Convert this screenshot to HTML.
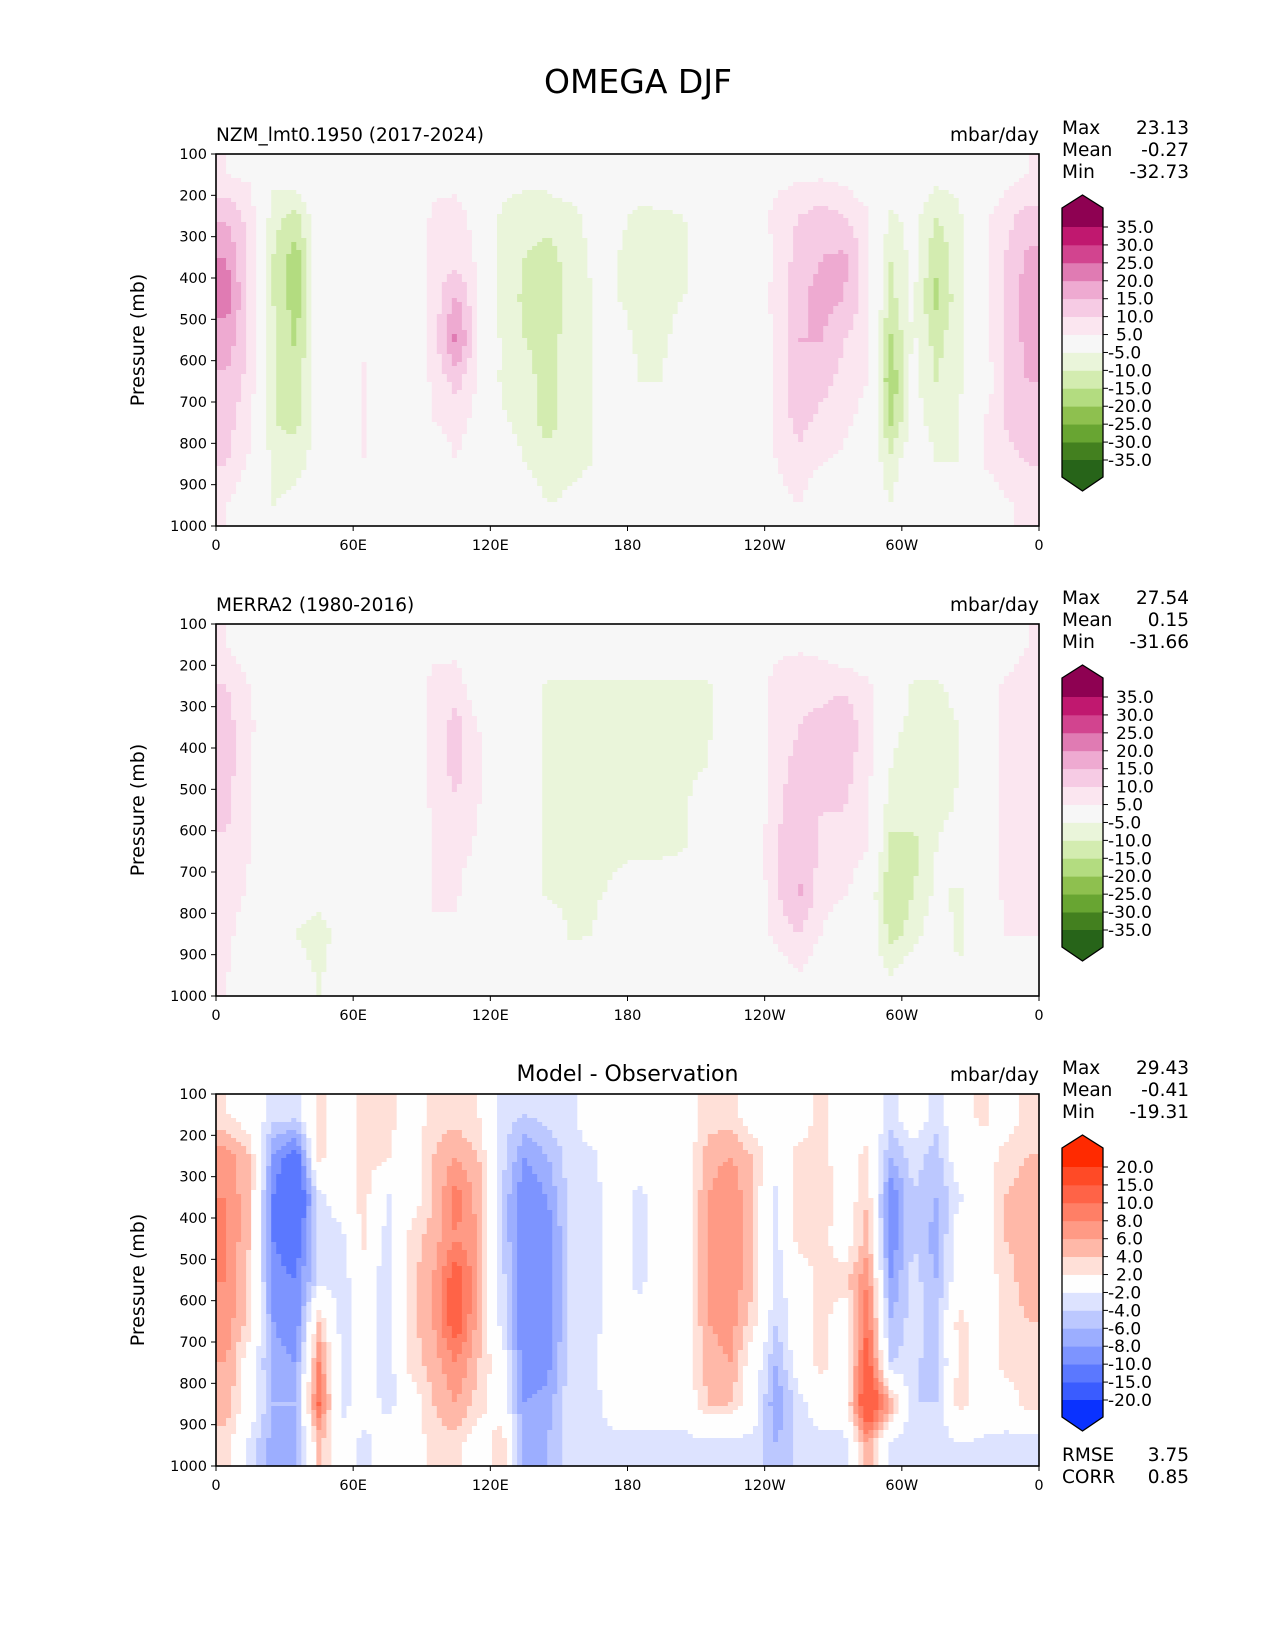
<!DOCTYPE html>
<html><head><meta charset="utf-8"><style>
html,body{margin:0;padding:0;background:#fff;}
svg{display:block;font-family:"DejaVu Sans","Liberation Sans",sans-serif;}
</style></head><body>
<svg id="fig" width="1275" height="1650" viewBox="0 0 1275 1650" xmlns="http://www.w3.org/2000/svg">
<rect width="1275" height="1650" fill="#fff"/>
<text x="638" y="93" font-size="33" text-anchor="middle">OMEGA DJF</text>
</svg>
<script>
// ---------- data ----------
const pressureLevels = [150,250,350,450,550,650,750,850,950];
const lonCenters = [5,15,25,35,45,55,65,75,85,95,105,115,125,135,145,155,165,175,185,195,205,215,225,235,245,255,265,275,285,295,305,315,325,335,345,355];
const xTickLabels = ["0","60E","120E","180","120W","60W","0"];
const xTickLons = [0,60,120,180,240,300,360];
const yTickLabels = [100,200,300,400,500,600,700,800,900,1000];

const modelGrid = [
[5,4,-3,0,0,0,0,0,0,3,3,0,-3,-3,-3,0,0,0,-2,0,0,0,0,0,3,4,4,3,0,0,0,-3,-3,0,3,5],
[14,8,-8,-12,0,0,0,0,0,6,7,3,-6,-8,-8,-7,-3,-4,-6,-6,-5,0,0,0,7,10,12,10,6,-6,-3,-10,-6,3,8,12],
[20,8,-10,-18,0,0,0,0,0,7,8,4,-7,-10,-12,-8,-4,-5,-6,-6,-6,0,0,0,6,12,15,16,7,-10,-3,-14,-7,3,10,16],
[22,9,-10,-18,0,-1,0,0,0,7,16,5,-7,-11,-14,-8,-5,-5,-6,-6,-5,0,0,0,7,14,17,15,7,-12,-4,-16,-7,3,10,18],
[18,9,-9,-16,0,0,4,0,0,7,22,5,-6,-10,-12,-8,-5,-3,-6,-6,-3,0,0,0,6,15,15,10,6,-16,-4,-12,-6,3,10,17],
[14,8,-9,-14,0,0,6,0,0,6,12,4,-6,-8,-12,-7,-5,0,-5,-5,0,0,0,0,6,15,12,8,5,-20,-3,-10,-6,0,10,15],
[12,6,-10,-12,0,0,6,0,0,5,7,3,-4,-7,-12,-7,-5,0,-3,-3,0,0,0,0,6,12,8,6,3,-16,-3,-7,-5,5,10,14],
[10,4,-6,-6,-4,0,5,0,0,0,5,0,0,-5,-8,-6,-5,0,0,0,0,0,0,-3,5,8,5,4,0,-8,0,-5,-5,5,8,10],
[5,0,-5,-4,0,0,3,0,0,0,0,0,0,0,-5,-4,-3,0,0,0,0,0,0,0,3,5,0,0,0,-5,0,0,-4,0,4,6]];

const obsGrid = [
[5,0,0,0,0,0,0,0,0,3,3,0,0,0,0,0,0,0,0,0,0,0,0,0,3,4,3,0,0,0,0,0,0,0,0,5],
[10,5,0,0,0,0,0,0,0,7,8,0,0,0,-6,-6,-6,-6,-6,-6,-6,-6,0,0,8,9,9,9,6,0,-6,-6,-3,0,6,9],
[12,6,0,0,0,0,0,0,0,7,12,5,0,0,-6,-6,-6,-6,-6,-6,-6,-6,0,0,8,10,11,14,7,-4,-6,-8,-5,0,7,9],
[12,5,0,0,0,0,0,0,0,7,12,6,0,0,-6,-6,-6,-6,-6,-6,-6,-5,0,0,9,11,11,12,7,-5,-7,-10,-5,0,7,8],
[11,5,0,0,0,0,0,0,0,6,9,5,0,0,-6,-6,-6,-6,-6,-6,-6,0,0,0,9,12,10,10,6,-8,-8,-7,-4,0,6,7],
[9,5,0,0,0,0,0,0,0,6,7,4,0,0,-6,-6,-6,-6,-6,-6,-5,0,0,0,10,14,9,8,5,-12,-12,-5,0,0,6,7],
[8,4,-4,0,0,0,0,0,0,5,6,0,0,0,-6,-6,-6,-4,0,0,0,0,0,0,9,16,7,6,0,-14,-10,-4,-6,0,6,6],
[7,0,0,-5,-10,0,0,0,0,5,4,0,0,0,0,-6,-5,0,0,0,0,0,0,0,7,10,5,0,0,-12,-8,0,-7,0,5,5],
[5,0,0,0,-6,0,0,0,0,0,0,0,0,0,0,0,0,0,0,0,0,0,0,0,0,5,0,0,0,-5,0,0,-4,0,0,0]];

const diffGrid = [
[2,0,-3,-3,3,0,3,3,0,3,3,2,-3,-4,-3,-2.5,0,0,0,0,0,3,3,0,0,0,3,0,0,-3,0,-3,0,3,0,3],
[7,4,-8,-12,3,0,3,2.5,0,4,6,4,-3,-8,-6,-3,-2.5,0,0,0,0,5,6,4,0,3,3,0,3,-6,-3,-5,0,0,3,4],
[8,4,-10,-15,-3,0,3,-2.5,0,4,9,5,-4,-10,-8,-3,-3,0,-3,0,0,6,8,4,-3,3,4,0,4,-10,-4,-6,-2.5,0,4,5],
[8,4,-10,-12,-3,-3,3,-3,3,5,8,6,-4,-10,-10,-3,-3,0,-3,0,0,6,8,4,-3,3,3,0,5,-10,-4,-7,0,0,4,5],
[8,3,-9,-10,-3,-3,0,-4,3,6,12,6,-3,-10,-10,-3,-3,0,-3,0,0,6,8,4,-3,0,3,3,8,-8,-3,-6,0,0,3,5],
[7,3,-8,-10,4,-3,0,-4,3,6,12,5,-3,-10,-10,-3,-3,0,0,0,0,6,7,3,-4,0,3,0,10,-6,-3,-5,3,0,3,4],
[6,0,-7,-8,8,-3,0,-4,3,5,8,4,0,-10,-9,-3,-2.5,0,0,0,0,5,6,0,-6,0,3,0,12,-4,-3,-6,3,0,3,3],
[5,0,-6,-6,10,-3,0,-3,0,4,6,3,0,-8,-7,-2.5,-3,0,0,0,0,4,4,0,-8,-3,0,0,15,6,-4,-4,3,0,0,3],
[3,-3,-7,-7,4,0,-3,0,0,3,3,0,4,-8,-6,-3,-3,-3,-3,-3,-3,-3,-3,-3,-6,-3,-3,-3,6,-3,-4,-3,-2.5,-2.5,-3,-4]];

const fieldBounds = [-35,-30,-25,-20,-15,-10,-5,5,10,15,20,25,30,35];
const fieldLabels = ["-35.0","-30.0","-25.0","-20.0","-15.0","-10.0","-5.0","5.0","10.0","15.0","20.0","25.0","30.0","35.0"];
const fieldColors = ["#276419","#43801f","#68a532","#8ec04f","#b3dc80","#d3ecb0","#eaf5da","#f7f7f7","#fbe6f0","#f6cbe4","#eeaad1","#e07bb3","#d2448f","#c0186f","#8e0152"];
const diffBounds = [-20,-15,-10,-8,-6,-4,-2,2,4,6,8,10,15,20];
const diffLabels = ["-20.0","-15.0","-10.0","-8.0","-6.0","-4.0","-2.0","2.0","4.0","6.0","8.0","10.0","15.0","20.0"];
const diffColors = ["#0a32ff","#3a5cff","#5b78ff","#7d94ff","#9caeff","#bcc8ff","#dde3ff","#fefefe","#ffe0d8","#ffb8a8","#ff9a85","#ff7f66","#ff6347","#ff4a26","#ff2a00"];

const statsModel = ["23.13","-0.27","-32.73"];
const statsObs = ["27.54","0.15","-31.66"];
const statsDiff = ["29.43","-0.41","-19.31"];
const diffScores = ["3.75","0.85"];

// ---------- layout ----------
const AXL=216, AXR=1039, AXH=372;
const NS='http://www.w3.org/2000/svg';
const svg=document.getElementById('fig');
function el(tag,attrs,parent){const e=document.createElementNS(NS,tag);for(const k in attrs)e.setAttribute(k,attrs[k]);(parent||svg).appendChild(e);return e;}
function txt(s,attrs,parent){const e=el('text',attrs,parent);e.textContent=s;return e;}
function xScale(lon){return AXL+(lon/360)*(AXR-AXL);}
function yScale(p,top){return top+((p-100)/900)*AXH;}
function classify(v,bounds){let i=0;while(i<bounds.length&&v>=bounds[i])i++;return i;}
function sample(grid,lon,p){
  let fx=(lon-5)/10, fy=(p-150)/100;
  fx=Math.max(0,Math.min(35,fx)); fy=Math.max(0,Math.min(8,fy));
  const x0=Math.floor(fx), y0=Math.floor(fy), x1=Math.min(35,x0+1), y1=Math.min(8,y0+1);
  const tx=fx-x0, ty=fy-y0;
  const a=grid[y0][x0]*(1-tx)+grid[y0][x1]*tx, b=grid[y1][x0]*(1-tx)+grid[y1][x1]*tx;
  return a*(1-ty)+b*ty;
}

function panel(top,grid,bounds,colors,labels,subtitle,stats,key,centerTitle){
  const g=el('g',{});
  
  
  const NX=164, NY=93;
  const dl=360/NX, dp=900/NY;
  for(let j=0;j<NY;j++){
    const p=100+(j+0.5)*dp;
    let run=-1, start=0;
    for(let i=0;i<=NX;i++){
      const c=i<NX?classify(sample(grid,(i+0.5)*dl,p),bounds):-2;
      if(c!==run){
        if(run>=0){
          const r=el('rect',{x:xScale(start*dl).toFixed(2),y:yScale(100+j*dp,top).toFixed(2),width:(xScale(i*dl)-xScale(start*dl)+0.6).toFixed(2),height:(AXH/NY+0.6).toFixed(2),fill:colors[run]},g);
          
          
        }
        run=c;start=i;
      }
    }
  }
  const fr=el('rect',{x:AXL,y:top,width:AXR-AXL,height:AXH,fill:'none',stroke:'#000','stroke-width':1.6});
  
  
  yTickLabels.forEach(v=>{
    const y=yScale(v,top);
    el('line',{x1:AXL-5,x2:AXL,y1:y,y2:y,stroke:'#000','stroke-width':1});
    const t=txt(String(v),{x:AXL-9,y:y+5,'font-size':14.5,'text-anchor':'end'});
    
    
  });
  xTickLons.forEach((lon,k)=>{
    const x=xScale(lon);
    el('line',{x1:x,x2:x,y1:top+AXH,y2:top+AXH+5,stroke:'#000','stroke-width':1});
    const t=txt(xTickLabels[k],{x:x,y:top+AXH+24,'font-size':14.5,'text-anchor':'middle'});
    
    
  });
  const yl=txt('Pressure (mb)',{x:0,y:0,'font-size':19,'text-anchor':'middle',transform:`translate(144,${top+AXH/2}) rotate(-90)`});
  
  
  if(subtitle){
    const st=txt(subtitle,{x:AXL,y:top-13,'font-size':18.5});
    
    
  }
  if(centerTitle){
    const ct=txt(centerTitle,{x:(AXL+AXR)/2,y:top-13,'font-size':22,'text-anchor':'middle'});
    
    
  }
  const un=txt('mbar/day',{x:AXR,y:top-13,'font-size':18.5,'text-anchor':'end'});
  
  
  ['Max','Mean','Min'].forEach((n,k)=>{
    const y=top-20+k*22;
    const a=txt(n,{x:1062,y:y,'font-size':18.5});
    
    
    const b=txt(stats[k],{x:1189,y:y,'font-size':18.5,'text-anchor':'end'});
    
    
  });
  const cx=1062, cw=41, b0=top+73, step=(306-73)/13;
  const by=k=>b0+(13-k)*step;
  const cb=el('g',{});
  
  
  el('polygon',{points:`${cx},${top+54} ${cx+cw/2},${top+41} ${cx+cw},${top+54} ${cx+cw},${by(13)} ${cx},${by(13)}`,fill:colors[14]},cb);
  for(let k=0;k<13;k++) el('rect',{x:cx,y:by(k+1),width:cw,height:step+0.4,fill:colors[k+1]},cb);
  el('polygon',{points:`${cx},${by(0)} ${cx+cw},${by(0)} ${cx+cw},${top+323} ${cx+cw/2},${top+337} ${cx},${top+323}`,fill:colors[0]},cb);
  el('polygon',{points:`${cx},${top+54} ${cx+cw/2},${top+41} ${cx+cw},${top+54} ${cx+cw},${top+323} ${cx+cw/2},${top+337} ${cx},${top+323}`,fill:'none',stroke:'#000','stroke-width':1.3},cb);
  for(let k=0;k<14;k++){
    const y=by(k);
    el('line',{x1:cx+cw,x2:cx+cw+5,y1:y,y2:y,stroke:'#000','stroke-width':1},cb);
    const t=txt(labels[k],{x:cx+cw+5+(bounds[k]<0?0:8),y:y+6,'font-size':17},cb);
    
    
  }
}
panel(154,modelGrid,fieldBounds,fieldColors,fieldLabels,'NZM_lmt0.1950 (2017-2024)',statsModel,'model',null);
panel(624,obsGrid,fieldBounds,fieldColors,fieldLabels,'MERRA2 (1980-2016)',statsObs,'obs',null);
panel(1094,diffGrid,diffBounds,diffColors,diffLabels,null,statsDiff,'diff','Model - Observation');
['RMSE','CORR'].forEach((n,k)=>{
  const y=1461+k*22;
  const a=txt(n,{x:1062,y:y,'font-size':18.5});
  
  
  const b=txt(diffScores[k],{x:1189,y:y,'font-size':18.5,'text-anchor':'end'});
  
  
});
</script>
</body></html>
